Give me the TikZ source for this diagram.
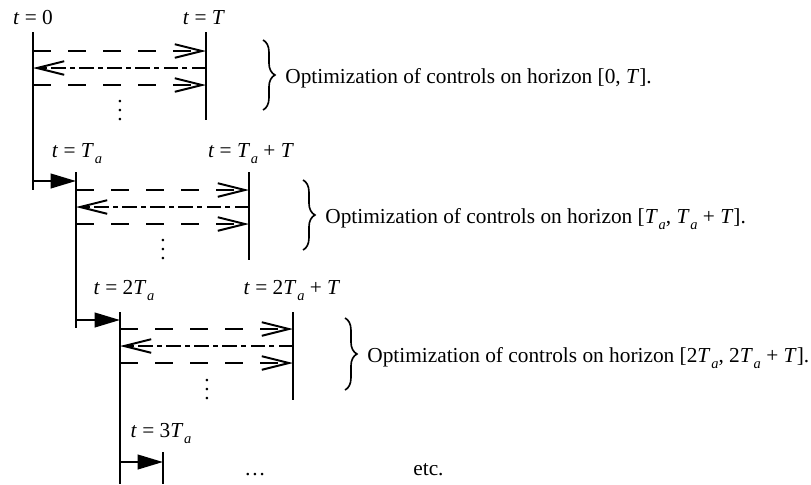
\documentclass[tikz,border=0pt]{standalone}
\usepackage{fontspec}
\setmainfont{Liberation Serif}
\usetikzlibrary{arrows.meta, calc, decorations.pathreplacing}

% subscripted T_a in text mode
\newcommand{\Ta}{\textit{T}\kern0.4pt\raisebox{-0.7ex}{\footnotesize\textit{a}}}
\newcommand{\vdotsb}{\vbox{\baselineskip5pt\lineskiplimit0pt\hbox{.}\hbox{.}\hbox{.}}}

\begin{document}
\begin{tikzpicture}[
    x=0.553pt, y=-0.553pt,
    bar/.style={line width=1.4pt},
    fwd/.style={line width=1.1pt, dash pattern=on 10pt off 9.4pt,
                -{Straight Barb[length=15pt, width=7.5pt, line width=1.1pt]}},
    bwd/.style={line width=1.1pt, dash pattern=on 8pt off 2.5pt on 2.5pt off 2.5pt,
                -{Straight Barb[length=15pt, width=7.5pt, line width=1.1pt]}},
    hop/.style={line width=1.4pt, -{Triangle[length=14pt, width=8pt]}},
    curly/.style={decorate, decoration={brace, amplitude=6.6pt}, line width=0.9pt},
    tlbl/.style={anchor=base, inner sep=0pt, font=\fontsize{11.8}{14}\selectfont},
    note/.style={anchor=base west, inner sep=0pt, font=\fontsize{11.8}{14}\selectfont},
    dotcol/.style={anchor=south, inner sep=0pt, font=\fontsize{11.8}{14}\selectfont},
]
    \useasboundingbox (0,0) rectangle (811,484);

    % --- Horizon [0, T] ---
    \coordinate (L0) at (33,32);
    \coordinate (R0) at (206,32);
    \draw[bar] (L0) -- ($(L0)+(0,158)$);
    \draw[bar] (R0) -- ($(R0)+(0,88)$);
    \node[tlbl] (lblL0) at (33,24) {\textit{t} = 0};
    \node[tlbl] (lblR0) at (204,24) {\textit{t} = \textit{T}};

    \draw[fwd] ($(L0)+(0,19)$) -- ($(R0)+(0,19)$);
    \draw[bwd] ($(R0)+(0,36)$) -- ($(L0)+(0,36)$);
    \draw[fwd] ($(L0)+(0,53)$) -- ($(R0)+(0,53)$);
    \node[dotcol] (dots0) at (120,121) {\vdotsb};

    \draw[curly] (263,40) -- (263,110);
    \node[note] (opt0) at (285,83) {Optimization of controls on horizon [0, \textit{T}].};

    % --- Horizon [Ta, Ta+T] ---
    \coordinate (L1) at (76,172);
    \coordinate (R1) at (249,172);
    \coordinate (H0) at ($(L0)+(0,149)$);
    \draw[hop] (H0) -- (H0 -| L1);
    \draw[bar] (L1) -- ($(L1)+(0,156)$);
    \draw[bar] (R1) -- ($(R1)+(0,88)$);
    \node[tlbl] (lblL1) at (77,157) {\textit{t} = \Ta};
    \node[tlbl] (lblR1) at (251,157) {\textit{t} = \Ta{} + \textit{T}};

    \draw[fwd] ($(L1)+(0,18)$) -- ($(R1)+(0,18)$);
    \draw[bwd] ($(R1)+(0,35)$) -- ($(L1)+(0,35)$);
    \draw[fwd] ($(L1)+(0,52)$) -- ($(R1)+(0,52)$);
    \node[dotcol] (dots1) at (163,260) {\vdotsb};

    \draw[curly] (303,180) -- (303,250);
    \node[note] (opt1) at (325,223) {Optimization of controls on horizon [\Ta, \Ta{} + \textit{T}].};

    % --- Horizon [2Ta, 2Ta+T] ---
    \coordinate (L2) at (120,312);
    \coordinate (R2) at (293,312);
    \coordinate (H1) at ($(L1)+(0,148)$);
    \draw[hop] (H1) -- (H1 -| L2);
    \draw[bar] (L2) -- ($(L2)+(0,172)$);
    \draw[bar] (R2) -- ($(R2)+(0,88)$);
    \node[tlbl] (lblL2) at (124,294) {\textit{t} = 2\Ta};
    \node[tlbl] (lblR2) at (292,294) {\textit{t} = 2\Ta{} + \textit{T}};

    \draw[fwd] ($(L2)+(0,17)$) -- ($(R2)+(0,17)$);
    \draw[bwd] ($(R2)+(0,34)$) -- ($(L2)+(0,34)$);
    \draw[fwd] ($(L2)+(0,51)$) -- ($(R2)+(0,51)$);
    \node[dotcol] (dots2) at (207,400) {\vdotsb};

    \draw[curly] (345,318) -- (345,390);
    \node[note] (opt2) at (367,362) {Optimization of controls on horizon [2\Ta, 2\Ta{} + \textit{T}].};

    % --- next step ---
    \coordinate (L3) at (163,452);
    \coordinate (H2) at ($(L2)+(0,150)$);
    \draw[hop] (H2) -- (H2 -| L3);
    \draw[bar] (L3) -- ($(L3)+(0,32)$);
    \node[tlbl] (lblL3) at (161,437) {\textit{t} = 3\Ta};
    \node[tlbl] (more) at (255,475) {\dots};
    \node[note] (etc) at (413,475) {etc.};
\end{tikzpicture}
\end{document}
